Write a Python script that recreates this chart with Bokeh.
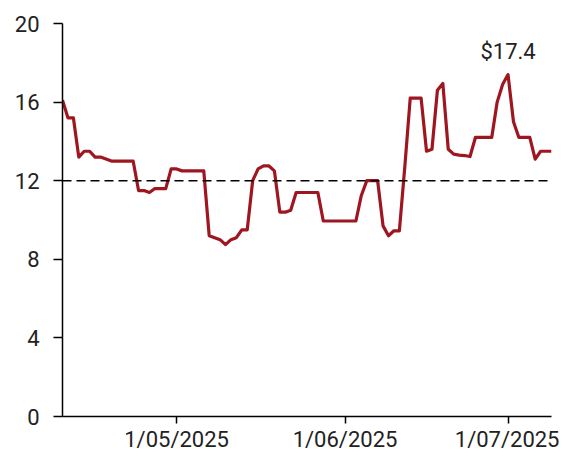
import pandas as pd
from bokeh.plotting import figure
from bokeh.models import Range1d, FixedTicker, CustomJSTickFormatter, Span, ColumnDataSource
from bokeh.core.properties import value
from bokeh.embed import file_html
from bokeh.resources import INLINE

start_date = "2025-04-10"
prices = [16.1, 15.2, 15.2, 13.2, 13.5, 13.5, 13.2, 13.2, 13.1, 13.0,
          13.0, 13.0, 13.0, 13.0, 11.5, 11.5, 11.4, 11.6, 11.6, 11.6,
          12.6, 12.6, 12.5, 12.5, 12.5, 12.5, 12.5, 9.2, 9.1, 9.0,
          8.75, 9.0, 9.1, 9.5, 9.5, 12.0, 12.6, 12.75, 12.75, 12.5,
          10.4, 10.4, 10.5, 11.4, 11.4, 11.4, 11.4, 11.4, 9.95, 9.95,
          9.95, 9.95, 9.95, 9.95, 9.95, 11.25, 12.0, 12.0, 12.0, 9.7,
          9.2, 9.45, 9.45, 12.7, 16.2, 16.2, 16.2, 13.5, 13.6, 16.6,
          16.95, 13.6, 13.35, 13.3, 13.28, 13.23, 14.2, 14.2, 14.2, 14.2,
          16.0, 16.9, 17.4, 15.0, 14.2, 14.2, 14.2, 13.1, 13.5, 13.5, 13.5]
threshold = 12
y_ticks = [0, 4, 8, 12, 16, 20]
x_tick_dates = ["2025-05-01", "2025-06-01", "2025-07-01"]
peak_label = "$17.4"

dates = pd.date_range(start_date, periods=len(prices), freq="D")
src = ColumnDataSource(dict(date=dates, price=prices))

FONT = "Roboto"
p = figure(width=559, height=458, x_axis_type="datetime",
           output_backend="svg", toolbar_location=None,
           x_range=Range1d(dates[0], dates[-1]), y_range=Range1d(0, 20),
           min_border_left=62, min_border_right=8, min_border_top=23, min_border_bottom=42)
p.outline_line_color = None
p.xgrid.visible = False
p.ygrid.visible = False
p.background_fill_color = "white"

p.add_layout(Span(location=threshold, dimension="width", line_color="black",
                  line_width=1.5, line_dash="9 5"))
p.line("date", "price", source=src, line_color="#9E1620", line_width=3.2, line_join="round")

imax = max(range(len(prices)), key=lambda i: prices[i])
p.text(x=[dates[imax]], y=[prices[imax]], text=[peak_label], text_align="center",
       text_baseline="bottom", y_offset=-11, text_font=value(FONT),
       text_font_size="22px", text_color="#222222")

for ax in (p.xaxis[0], p.yaxis[0]):
    ax.axis_line_color = "black"
    ax.axis_line_width = 1.5
    ax.major_tick_line_color = "black"
    ax.major_tick_line_width = 1.5
    ax.minor_tick_line_color = None
    ax.major_tick_in = 0
    ax.major_label_text_font = FONT
    ax.major_label_text_font_size = "22px"
    ax.major_label_text_color = "#222222"

p.yaxis.ticker = FixedTicker(ticks=y_ticks)
p.yaxis.major_tick_out = 9
p.yaxis.major_label_standoff = 14

p.xaxis.ticker = FixedTicker(ticks=[pd.Timestamp(d).value / 1e6 for d in x_tick_dates])
p.xaxis.major_tick_out = 7
p.xaxis.major_label_standoff = 3
p.xaxis.formatter = CustomJSTickFormatter(code="""
const d = new Date(tick);
return d.getUTCDate() + "/" + String(d.getUTCMonth() + 1).padStart(2, "0") + "/" + d.getUTCFullYear();
""")

open("out.html", "w").write(file_html(p, INLINE))
